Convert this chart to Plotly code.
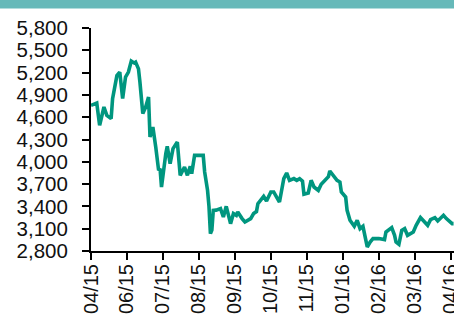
import plotly.graph_objects as go

# trading-day index and index level
day = [0, 2, 4, 6, 9, 11, 14, 15, 17, 18, 20, 22, 24, 26, 28, 30, 31, 33, 34, 36,
       38, 40, 41, 43, 45, 47, 48, 49, 52, 53, 55, 57, 60, 61, 62, 65, 67, 69, 70, 72,
       75, 78, 79, 81, 82, 83, 84, 85, 87, 90, 92, 94, 97, 99, 101, 102, 105, 107, 111, 113,
       115, 116, 120, 122, 125, 127, 129, 131, 134, 136, 138, 141, 143, 145, 147, 148, 151, 153, 155, 158,
       160, 163, 165, 166, 168, 171, 173, 174, 177, 178, 180, 183, 185, 187, 189, 191, 192, 194, 196, 200,
       204, 205, 207, 209, 211, 212, 214, 216, 218, 220, 224, 226, 229, 231, 234, 236, 239, 241, 245, 247,
       251, 252]
level = [4760, 4780, 4790, 4490, 4737, 4625, 4580, 4850, 5050, 5160, 5207, 4850, 5140, 5207, 5355, 5330, 5342, 5250, 5073, 4648,
         4737, 4871, 4333, 4468, 4199, 3885, 3908, 3661, 4110, 4208, 3975, 4177, 4266, 4000, 3818, 3930, 3818, 3940, 3841, 4087,
         4087, 4087, 3863, 3616, 3400, 3034, 3080, 3347, 3350, 3370, 3257, 3401, 3168, 3303, 3280, 3325, 3236, 3190, 3236, 3303,
         3330, 3437, 3536, 3473, 3594, 3594, 3526, 3459, 3774, 3849, 3751, 3774, 3751, 3774, 3740, 3563, 3580, 3751, 3661, 3616,
         3697, 3751, 3800, 3876, 3832, 3751, 3728, 3594, 3526, 3347, 3213, 3132, 3213, 3101, 3132, 2967, 2854, 2921, 2967, 2967,
         2953, 3056, 3090, 3115, 3011, 2921, 2890, 3078, 3101, 3011, 3056, 3146, 3249, 3213, 3146, 3222, 3249, 3204, 3280, 3236,
         3168, 3168]

tick_days = [0, 25, 50, 75, 100, 125, 150, 175, 200, 225, 250]
tick_labels = ["04/15", "06/15", "07/15", "08/15", "09/15", "10/15", "11/15", "01/16", "02/16", "03/16", "04/16"]
y_ticks = [2800, 3100, 3400, 3700, 4000, 4300, 4600, 4900, 5200, 5500, 5800]

fig = go.Figure()
fig.add_trace(go.Scatter(x=day, y=level, mode="lines",
                         line=dict(color="#00967f", width=3.6), hoverinfo="skip", cliponaxis=False))

font = dict(family="Liberation Sans, Arial, sans-serif", size=20.5, color="#111111")
xfont = dict(family="Liberation Sans, Arial, sans-serif", size=20, color="#111111")

fig.update_layout(
    width=454, height=317,
    margin=dict(l=91, r=0, t=28, b=66),
    paper_bgcolor="white", plot_bgcolor="white",
    showlegend=False,
    font=font,
    xaxis=dict(range=[0, 252.3], tickvals=tick_days, ticktext=tick_labels, tickangle=-90,
               showgrid=False, zeroline=False, showline=True, linecolor="black", linewidth=2,
               ticks="outside", ticklen=7, tickwidth=2, tickcolor="black", automargin=False,
               ticklabelstandoff=-4, ticklabeloverflow="allow", tickfont=xfont),
    yaxis=dict(range=[2800, 5800], tickvals=y_ticks, ticktext=[f"{v:,}" for v in y_ticks],
               showgrid=False, zeroline=False, showline=True, linecolor="black", linewidth=2,
               ticks="outside", ticklen=7, tickwidth=2, tickcolor="black", automargin=False,
               ticklabelstandoff=10, ticklabeloverflow="allow", tickfont=font),
    shapes=[dict(type="rect", xref="paper", yref="paper", x0=-1, x1=2, y0=1.087, y1=1.3,
                 fillcolor="#66b9b9", line=dict(width=0), layer="above")],
)

fig.write_html("out.html", config={"displayModeBar": False},
               post_script="document.body.style.margin='0';document.body.style.overflow='hidden';")
